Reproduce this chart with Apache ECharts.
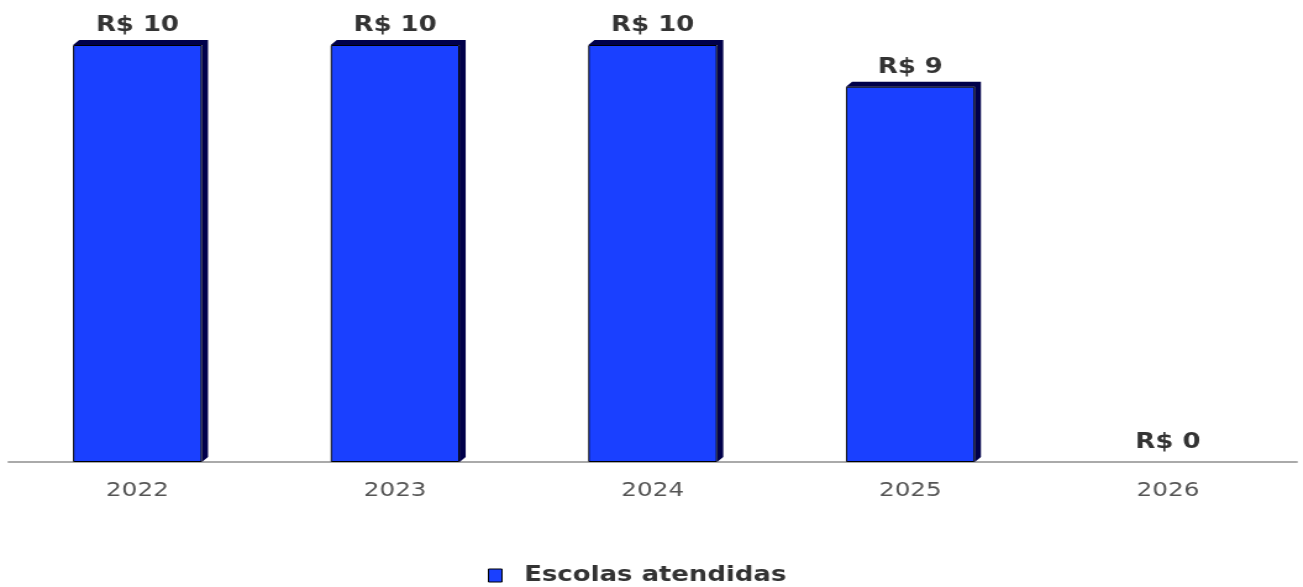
<!DOCTYPE html>
<html>
<head>
<meta charset="utf-8">
<script src="https://cdn.jsdelivr.net/npm/echarts@6/dist/echarts.min.js"></script>
<style>
  html, body { margin: 0; padding: 0; background: #fff; overflow: hidden; }
  /* o grafico original e esticado na horizontal */
  #chart { width: 1055px; height: 587px; transform: scaleX(1.235); transform-origin: 0 0; }
</style>
</head>
<body>
<div id="chart"></div>
<script>
const years = ["2022", "2023", "2024", "2025", "2026"];
const escolas = [10, 10, 10, 9, 0];

const chart = echarts.init(document.getElementById("chart"));

// sombra 3D atras das barras (topo e lado direito)
function renderShadow(params, api) {
  const value = api.value(1);
  if (!value) return null;
  const base = api.coord([api.value(0), 0]);
  const top = api.coord([api.value(0), value]);
  const w = api.size([1, 0])[0] * 0.5;
  const x = base[0] - w / 2;
  const d = 5;
  const h = 5;
  return {
    type: "polygon",
    shape: {
      points: [
        [x, top[1]],
        [x + d, top[1] - h],
        [x + w + d, top[1] - h],
        [x + w + d, base[1] - h],
        [x + w, base[1]],
        [x + w, top[1]]
      ]
    },
    style: { fill: "#00004a" }
  };
}

chart.setOption({
  animation: false,
  grid: { left: 7, right: 5, top: 45, bottom: 125 },
  legend: {
    top: 560,
    left: 390,
    data: ["Escolas atendidas"],
    icon: "rect",
    itemWidth: 11,
    itemHeight: 13,
    itemGap: 10,
    itemStyle: { borderColor: "#000", borderWidth: 1 },
    textStyle: {
      fontFamily: "DejaVu Sans",
      fontWeight: "bold",
      fontSize: 21,
      color: "#333",
      padding: [0, 0, 0, 13]
    }
  },
  xAxis: {
    type: "category",
    data: years,
    axisLine: { lineStyle: { color: "#aaa", width: 2 } },
    axisTick: { show: false },
    axisLabel: {
      fontFamily: "DejaVu Sans",
      fontSize: 20,
      color: "#555",
      margin: 19
    }
  },
  yAxis: {
    type: "value",
    min: 0,
    max: 10,
    show: false
  },
  series: [
    {
      type: "custom",
      renderItem: renderShadow,
      data: years.map((y, i) => [i, escolas[i]]),
      z: 1,
      silent: true
    },
    {
      name: "Escolas atendidas",
      type: "bar",
      data: escolas.map((v) => ({ value: v, itemStyle: v ? {} : { borderWidth: 0 } })),
      barWidth: "50%",
      z: 2,
      itemStyle: {
        color: "#1a40ff",
        borderColor: "#000",
        borderWidth: 1
      },
      label: {
        show: true,
        position: "top",
        distance: 9,
        formatter: "R$ {c}",
        fontFamily: "DejaVu Sans",
        fontWeight: "bold",
        fontSize: 21,
        color: "#333"
      }
    }
  ]
});
</script>
</body>
</html>
